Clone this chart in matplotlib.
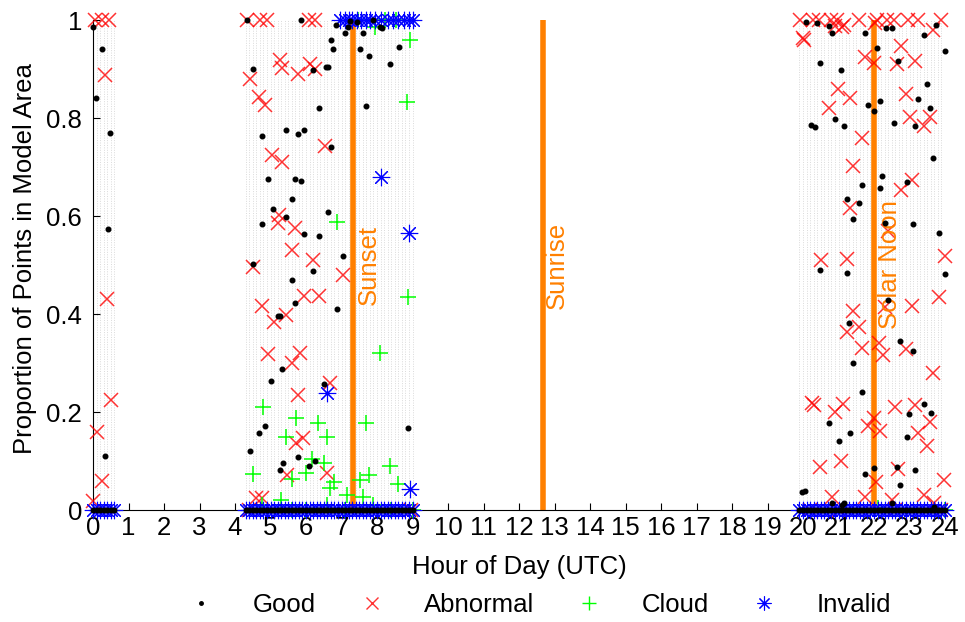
import numpy as np
import matplotlib.pyplot as plt
from matplotlib.lines import Line2D

plt.rcParams['font.family'] = ['Liberation Sans', 'DejaVu Sans']

# observation times (UTC hours) - these carry the dotted guide lines and the 0-rows
obs_hours = [0.0, 0.1, 0.2, 0.3, 0.4, 0.5, 0.6,
             4.3, 4.4, 4.5, 4.6, 4.7, 4.8, 4.9, 5.0, 5.1, 5.2, 5.3, 5.4, 5.5, 5.6, 5.7, 5.8,
             5.9, 6.0, 6.1, 6.2, 6.3, 6.4, 6.5, 6.6, 6.7, 6.8, 6.9, 7.0, 7.1, 7.2, 7.3, 7.4,
             7.5, 7.6, 7.7, 7.8, 7.9, 8.0, 8.1, 8.2, 8.3, 8.4, 8.5, 8.6, 8.7, 8.8, 8.9, 9.0,
             19.9, 20.0, 20.1, 20.2, 20.3, 20.4, 20.5, 20.6, 20.7, 20.8, 20.9, 21.0, 21.1,
             21.2, 21.3, 21.4, 21.5, 21.6, 21.7, 21.8, 21.9, 22.0, 22.1, 22.2, 22.3, 22.4,
             22.5, 22.6, 22.7, 22.8, 22.9, 23.0, 23.1, 23.2, 23.3, 23.4, 23.5, 23.6, 23.7,
             23.8, 23.9, 24.0]

good_hour = [0.0, 0.25, 0.08, 0.48, 0.42, 0.34,
             4.34, 5.86, 4.51, 6.2, 6.56, 6.62, 6.85, 6.7, 6.76, 7.1, 7.18, 7.24, 7.44, 7.6,
             7.52, 7.78, 7.9, 8.08, 8.14, 8.37, 8.62, 6.37, 7.69, 5.44, 5.77, 5.94, 4.76, 6.70,
             4.93, 5.69, 5.86, 5.61, 5.07, 5.44, 4.76, 5.94, 6.37, 6.62, 7.04, 4.51, 6.2, 5.61,
             6.87, 5.69, 5.21, 5.27, 5.32, 5.01, 6.51, 4.85, 4.68, 4.42, 5.35, 5.27, 5.77,
             6.08, 6.25, 8.87,
             20.08, 20.39, 20.73, 20.82, 21.75, 22.34, 22.5, 23.75, 23.41, 24.0, 22.08, 22.68,
             20.48, 21.07, 23.49, 23.24, 21.83, 22.0, 22.17, 23.58, 20.9, 20.23, 20.34, 21.15,
             22.56, 23.15, 23.66, 22.23, 21.66, 22.17, 22.93, 21.24, 21.58, 21.41, 22.31, 23.1,
             23.83, 20.48, 21.24, 24.0, 22.39, 21.3, 22.73, 23.1, 21.41, 21.66, 23.41, 23.6,
             22.99, 20.73, 21.32, 21.0, 22.93, 22.0, 21.75, 23.15, 22.65, 22.73, 19.97, 20.06,
             20.82, 21.1, 21.15, 22.5, 23.7]
good_prop = [0.985, 0.94, 0.84, 0.77, 0.573, 0.11,
             1.0, 1.0, 0.90, 0.898, 0.904, 0.904, 0.99, 0.96, 0.94, 0.973, 0.986, 0.998, 0.996,
             0.974, 0.94, 0.926, 1.0, 0.986, 0.983, 0.91, 0.945, 0.82, 0.824, 0.776, 0.767,
             0.776, 0.763, 0.741, 0.675, 0.675, 0.671, 0.635, 0.614, 0.598, 0.584, 0.563, 0.559,
             0.608, 0.518, 0.502, 0.488, 0.469, 0.41, 0.422, 0.396, 0.396, 0.288, 0.263, 0.257,
             0.171, 0.157, 0.120, 0.096, 0.082, 0.108, 0.09, 0.10, 0.167,
             0.996, 0.994, 0.988, 0.973, 0.973, 0.984, 0.983, 0.99, 0.969, 0.937, 0.942, 0.917,
             0.912, 0.898, 0.869, 0.838, 0.826, 0.814, 0.835, 0.82, 0.798, 0.786, 0.782, 0.784,
             0.79, 0.784, 0.718, 0.682, 0.663, 0.657, 0.67, 0.635, 0.627, 0.594, 0.586, 0.584,
             0.565, 0.49, 0.484, 0.482, 0.429, 0.382, 0.345, 0.324, 0.30, 0.241, 0.216, 0.198,
             0.196, 0.178, 0.157, 0.141, 0.149, 0.086, 0.073, 0.082, 0.088, 0.051, 0.037, 0.039,
             0.014, 0.01, 0.014, 0.014, 0.006]

abn_hour = [0.05, 0.25, 0.45, 0.34, 0.39, 0.5, 0.1, 0.26, 0.0,
            4.34, 4.7, 4.9, 6.08, 6.25, 5.27, 5.32, 4.42, 5.77, 6.11, 6.25, 4.68, 4.85, 6.54,
            5.04, 5.32, 5.24, 5.21, 5.69, 5.61, 6.2, 4.51, 7.04, 5.94, 6.37, 4.76, 5.44, 5.1,
            4.93, 5.83, 5.61, 6.68, 5.77, 5.72, 5.92, 5.46, 6.59, 4.6, 4.76, 4.4, 8.95,
            19.92, 20.28, 20.45, 20.79, 20.96, 21.58, 22.08, 22.37, 22.56, 22.96, 23.24, 23.66,
            23.9, 20.9, 21.1, 21.15, 22.03, 20.0, 20.03, 22.76, 21.75, 22.0, 22.65, 23.15, 20.99,
            21.32, 20.73, 22.9, 23.01, 23.58, 23.41, 21.66, 21.41, 23.07, 22.76, 21.32, 22.39,
            20.51, 21.24, 24.0, 23.83, 21.41, 22.31, 23.07, 21.24, 21.58, 21.66, 22.14, 22.25,
            22.9, 23.66, 20.25, 20.31, 21.13, 20.9, 22.59, 23.15, 22.0, 21.83, 22.17, 23.58,
            23.24, 23.49, 20.48, 21.07, 22.68, 23.97, 22.06, 20.82, 21.75, 23.41, 23.7, 22.5,
            20.2, 21.0, 22.6, 23.9]
abn_prop = [1.0, 1.0, 1.0, 0.888, 0.43, 0.225, 0.16, 0.06, 0.018,
            1.0, 1.0, 1.0, 1.0, 1.0, 0.918, 0.902, 0.88, 0.89, 0.91, 0.90, 0.843, 0.826, 0.743,
            0.725, 0.71, 0.602, 0.586, 0.576, 0.531, 0.51, 0.496, 0.48, 0.437, 0.437, 0.416,
            0.398, 0.384, 0.318, 0.32, 0.30, 0.259, 0.235, 0.137, 0.147, 0.071, 0.075, 0.024,
            0.024, 0.0, 0.0,
            1.0, 1.0, 1.0, 1.0, 1.0, 1.0, 1.0, 1.0, 1.0, 1.0, 1.0, 0.98,
            1.0, 0.988, 0.986, 0.99, 0.994, 0.963, 0.959, 0.947, 0.924, 0.912, 0.91, 0.917, 0.859,
            0.841, 0.82, 0.849, 0.802, 0.802, 0.784, 0.76, 0.702, 0.673, 0.653, 0.616, 0.569,
            0.51, 0.512, 0.518, 0.435, 0.406, 0.414, 0.416, 0.363, 0.373, 0.33, 0.341, 0.316,
            0.328, 0.28, 0.218, 0.214, 0.216, 0.2, 0.21, 0.214, 0.188, 0.171, 0.161, 0.18,
            0.157, 0.131, 0.088, 0.1, 0.084, 0.061, 0.057, 0.027, 0.027, 0.031, 0.014, 0.02,
            0.0, 0.0, 0.0, 0.0]

cloud_hour = [8.93, 8.85, 7.46, 7.95, 8.23, 8.54, 6.87, 8.87, 8.08, 4.79, 5.72, 6.34, 5.44,
              6.59, 7.69, 4.51, 5.61, 6.0, 6.17, 6.51, 6.79, 6.68, 8.37, 8.59, 7.52, 7.78,
              7.15, 7.6, 4.75, 5.3, 5.6, 6.0, 6.6, 7.1, 7.9, 8.4, 9.0, 22.1, 24.0]
cloud_prop = [0.959, 0.832, 1.0, 0.985, 1.0, 1.0, 0.588, 0.435, 0.32, 0.21, 0.188, 0.178,
              0.149, 0.149, 0.178, 0.073, 0.063, 0.075, 0.104, 0.096, 0.057, 0.045, 0.09,
              0.053, 0.061, 0.071, 0.03, 0.027, 0.01, 0.02, 0.0, 0.0, 0.01, 0.0, 0.01, 0.0,
              0.0, 0.005, 0.0]

inv_hour = [8.11, 8.9, 6.59, 8.93,
            6.95, 7.1, 7.2, 7.3, 7.45, 7.55, 7.7, 7.8, 7.95, 8.1, 8.3, 8.45, 8.6, 8.75, 8.9, 9.0]
inv_prop = [0.68, 0.565, 0.238, 0.043,
            1.0, 1.0, 1.0, 1.0, 1.0, 1.0, 1.0, 1.0, 1.0, 1.0, 1.0, 1.0, 1.0, 1.0, 1.0, 1.0]

events = ['Sunset', 'Sunrise', 'Solar Noon']
event_hour = [7.33, 12.68, 22.0]
label_hour = [7.77, 13.07, 22.45]

orange = '#FF8000'
fs = 18.5

fig = plt.figure(figsize=(9.65, 6.22), dpi=100)
ax = fig.add_axes([93/965, 112/622, 852/965, 490/622])

# dotted guide line at each observation time
ax.vlines(obs_hours, 0, 1, colors='#dadada', linestyles=(0, (1, 1.5)), linewidth=0.7, zorder=0)

zeros = [0.0] * len(obs_hours)
ax.plot(abn_hour, abn_prop, 'x', color='red', ms=10, mew=1.1, alpha=0.8, clip_on=False, zorder=3)
ax.plot(cloud_hour, cloud_prop, '+', color='#00FF00', ms=12, mew=1.1, clip_on=False, zorder=3)
ax.plot(inv_hour + obs_hours, inv_prop + zeros, ls='none', marker=(8, 2, 0), color='blue',
        ms=12.5, mew=0.8, clip_on=False, zorder=4)
ax.plot(good_hour + obs_hours, good_prop + zeros, 'o', color='black', ms=3.3, clip_on=False, zorder=5)

for name, h, lh in zip(events, event_hour, label_hour):
    ax.plot([h, h], [0, 1], color=orange, lw=4, zorder=2)
    ax.text(lh, 0.5, name, rotation=90, color=orange, fontsize=fs, ha='center', va='center')

ax.set_xlim(0, 24)
ax.set_ylim(0, 1)
ax.set_xticks(range(25))
ax.set_yticks([0, 0.2, 0.4, 0.6, 0.8, 1])
ax.set_yticklabels(['0', '0.2', '0.4', '0.6', '0.8', '1'])
ax.tick_params(direction='in', length=5, labelsize=fs, width=0.8)
ax.tick_params(axis='x', pad=4)
ax.tick_params(axis='y', pad=8)
for s in ['top', 'right']:
    ax.spines[s].set_visible(False)

ax.set_xlabel('Hour of Day (UTC)', fontsize=fs)
ax.xaxis.set_label_coords(0.5, -0.116)
ax.xaxis.label.set_va('center')
ax.set_ylabel('Proportion of Points in Model Area', fontsize=fs)
ax.yaxis.set_label_coords(-0.08, 0.514)
ax.yaxis.label.set_va('center')

handles = [Line2D([], [], ls='none', marker='o', color='black', ms=2.5),
           Line2D([], [], ls='none', marker='x', color='red', ms=8, mew=1, alpha=0.8),
           Line2D([], [], ls='none', marker='+', color='#00FF00', ms=10, mew=1),
           Line2D([], [], ls='none', marker=(8, 2, 0), color='blue', ms=10, mew=0.8)]
fig.legend(handles, ['Good', 'Abnormal', 'Cloud', 'Invalid'], loc='center',
           bbox_to_anchor=(533/965, 1 - 605/622), ncol=4, frameon=False, fontsize=fs,
           handlelength=2, handletextpad=1.03, columnspacing=1.16)

fig.savefig('out.png', dpi=100)
